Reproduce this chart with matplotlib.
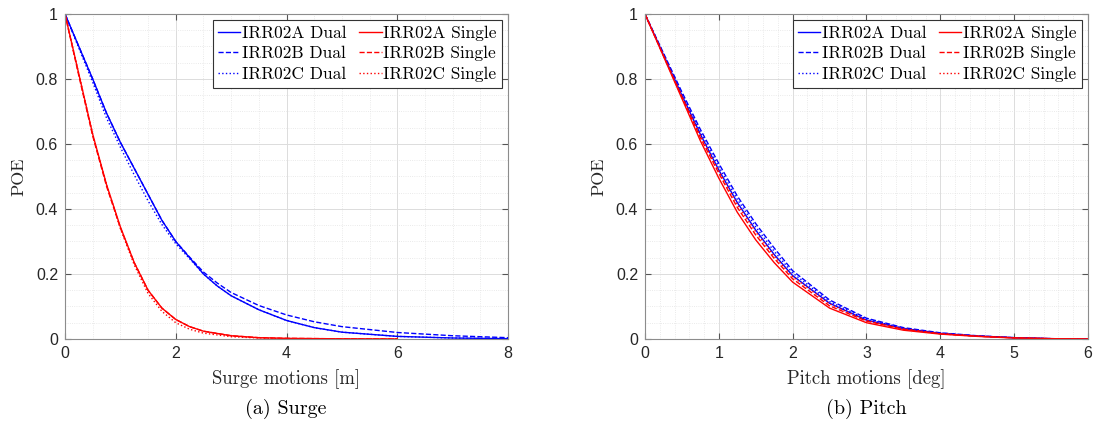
import numpy as np
import matplotlib.pyplot as plt
from matplotlib.ticker import MultipleLocator

# Surge (m)
surge_x = [0, 0.25, 0.5, 0.75, 1, 1.25, 1.5, 1.75, 2, 2.25, 2.5, 2.75, 3, 3.5, 4, 4.5, 5, 6, 7, 8]
surge_dual_a = [1, 0.90, 0.80, 0.695, 0.605, 0.525, 0.445, 0.365, 0.30, 0.25, 0.20, 0.163, 0.133,
                0.09, 0.057, 0.035, 0.021, 0.008, 0.003, 0.001]
surge_dual_b = [1, 0.90, 0.80, 0.695, 0.605, 0.525, 0.445, 0.365, 0.30, 0.252, 0.206, 0.172, 0.143,
                0.103, 0.074, 0.053, 0.038, 0.02, 0.01, 0.004]
surge_dual_c = [1, 0.895, 0.79, 0.68, 0.59, 0.505, 0.425, 0.352, 0.293, 0.247, 0.20, 0.163, 0.133,
                0.09, 0.057, 0.035, 0.021, 0.008, 0.003, 0.001]
surge_x_single = [0, 0.25, 0.5, 0.75, 1, 1.25, 1.5, 1.75, 2, 2.25, 2.5, 3, 3.5, 4, 5, 6]
surge_single_a = [1, 0.815, 0.63, 0.475, 0.345, 0.235, 0.15, 0.095, 0.06, 0.038, 0.024, 0.01, 0.004, 0.002, 0.0005, 0]
surge_single_b = [1, 0.81, 0.625, 0.47, 0.342, 0.235, 0.15, 0.095, 0.06, 0.038, 0.024, 0.01, 0.004, 0.002, 0.0005, 0]
surge_single_c = [1, 0.815, 0.63, 0.475, 0.34, 0.228, 0.14, 0.085, 0.05, 0.03, 0.018, 0.007, 0.003, 0.001, 0.0003, 0]

# Pitch (deg)
pitch_x = [0, 0.25, 0.5, 0.75, 1, 1.25, 1.5, 1.75, 2, 2.5, 3, 3.5, 4, 4.5, 5, 5.5, 6]
pitch_dual_a = [1, 0.875, 0.75, 0.63, 0.52, 0.42, 0.335, 0.26, 0.195, 0.11, 0.058, 0.032, 0.017, 0.009, 0.004, 0.001, 0]
pitch_dual_b = [1, 0.88, 0.76, 0.645, 0.54, 0.44, 0.355, 0.28, 0.21, 0.12, 0.064, 0.035, 0.019, 0.01, 0.004, 0.001, 0]
pitch_dual_c = [1, 0.878, 0.755, 0.637, 0.53, 0.43, 0.345, 0.27, 0.203, 0.115, 0.061, 0.033, 0.018, 0.0095, 0.004, 0.001, 0]
pitch_single_a = [1, 0.87, 0.74, 0.61, 0.495, 0.39, 0.305, 0.235, 0.175, 0.095, 0.05, 0.027, 0.015, 0.008, 0.003, 0.001, 0]
pitch_single_b = [1, 0.872, 0.745, 0.62, 0.51, 0.405, 0.32, 0.248, 0.185, 0.102, 0.055, 0.03, 0.016, 0.0085, 0.0035, 0.001, 0]
pitch_single_c = [1, 0.874, 0.748, 0.627, 0.517, 0.415, 0.33, 0.255, 0.192, 0.108, 0.057, 0.031, 0.017, 0.009, 0.004, 0.001, 0]

labels = ["IRR02A Dual", "IRR02B Dual", "IRR02C Dual",
          "IRR02A Single", "IRR02B Single", "IRR02C Single"]
styles = ["-", "--", ":"]

serif = "cmr10"
tick_font = "Liberation Sans"

fig = plt.figure(figsize=(10.98, 4.24), dpi=100)
ax1 = fig.add_axes([0.0592, 0.2005, 0.4035, 0.7665])
ax2 = fig.add_axes([0.5874, 0.2005, 0.4035, 0.7665])


def draw(ax, xd, duals, xs, singles, xmax, xmaj, xmin, xlabel):
    for y, ls, lab in zip(duals, styles, labels[:3]):
        ax.plot(xd, y, color="b", ls=ls, lw=1.0, label=lab)
    for y, ls, lab in zip(singles, styles, labels[3:]):
        ax.plot(xs, y, color="r", ls=ls, lw=1.0, label=lab)
    ax.set_xlim(0, xmax)
    ax.set_ylim(0, 1)
    ax.xaxis.set_major_locator(MultipleLocator(xmaj))
    ax.xaxis.set_minor_locator(MultipleLocator(xmin))
    ax.yaxis.set_major_locator(MultipleLocator(0.2))
    ax.yaxis.set_minor_locator(MultipleLocator(0.05))
    ax.yaxis.set_major_formatter(plt.FuncFormatter(lambda v, p: "%g" % round(v, 2)))
    ax.xaxis.set_major_formatter(plt.FuncFormatter(lambda v, p: "%g" % round(v, 2)))
    ax.grid(which="major", color="#dcdcdc", lw=0.7)
    ax.grid(which="minor", color="#e3e3e3", lw=0.6, ls=":")
    ax.set_axisbelow(True)
    ax.tick_params(which="both", direction="in", top=True, right=True,
                   color="#555555", labelsize=11.5, labelcolor="#262626", pad=5)
    ax.tick_params(which="minor", length=0)
    ax.tick_params(which="major", length=4)
    for t in ax.get_xticklabels() + ax.get_yticklabels():
        t.set_fontfamily(tick_font)
    for s in ax.spines.values():
        s.set_color("#8c8c8c")
        s.set_linewidth(0.8)
    ax.set_xlabel(xlabel, fontfamily=serif, fontsize=13.5, color="#262626", labelpad=6)
    ax.set_ylabel("POE", fontfamily=serif, fontsize=13, color="#262626", labelpad=7)
    leg = ax.legend(ncol=2, loc="upper right", prop={"family": serif, "size": 12.5},
                    handlelength=1.3, handletextpad=0.1, columnspacing=0.7,
                    labelspacing=0.32, borderpad=0.3, borderaxespad=0.35,
                    fancybox=False, framealpha=1)
    leg.get_frame().set_edgecolor("#333333")
    leg.get_frame().set_linewidth(0.8)


draw(ax1, surge_x, [surge_dual_a, surge_dual_b, surge_dual_c],
     surge_x_single, [surge_single_a, surge_single_b, surge_single_c],
     8, 2, 0.5, "Surge motions [m]")
draw(ax2, pitch_x, [pitch_dual_a, pitch_dual_b, pitch_dual_c],
     pitch_x, [pitch_single_a, pitch_single_b, pitch_single_c],
     6, 1, 0.2, "Pitch motions [deg]")

fig.text(286 / 1098, 1 - 409 / 424, "(a) Surge", fontfamily=serif, fontsize=14.5,
         ha="center", va="center")
fig.text(866 / 1098, 1 - 409 / 424, "(b) Pitch", fontfamily=serif, fontsize=14.5,
         ha="center", va="center")

fig.savefig("out.png", dpi=100)
